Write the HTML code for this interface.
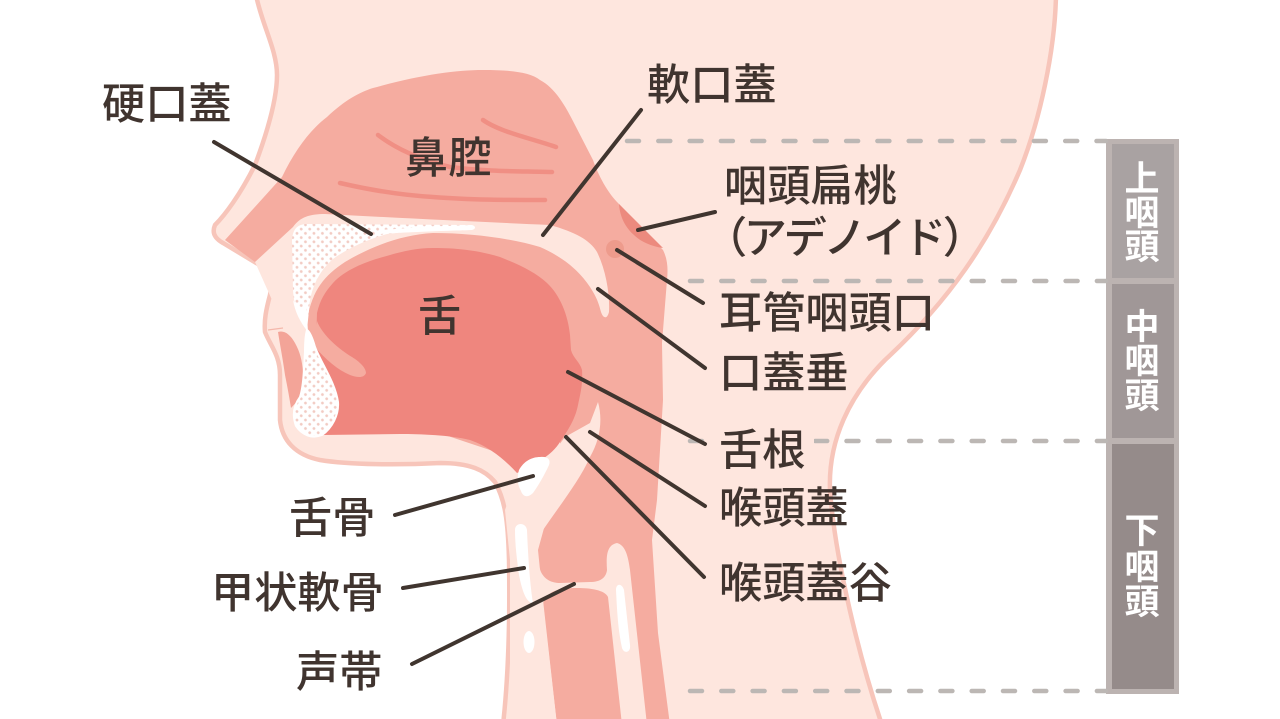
<!DOCTYPE html>
<html lang="ja"><head><meta charset="utf-8"><title>咽頭</title>
<style>html,body{margin:0;padding:0;background:#fff;width:1280px;height:719px;overflow:hidden}svg{display:block}
text{font-family:"Liberation Sans","Noto Sans CJK JP",sans-serif}
.l{font-size:43.2px;font-weight:500;fill:#40342f}
.b{font-size:35px;font-weight:700;fill:#fff;text-anchor:middle}
</style></head><body>
<svg width="1280" height="719" viewBox="0 0 1280 719" xmlns="http://www.w3.org/2000/svg">
<defs><pattern id="d" width="6" height="6" patternUnits="userSpaceOnUse" patternTransform="rotate(45)"><rect width="6" height="6" fill="#fff"/><circle cx="3" cy="3" r="1.4" fill="#f2cbc3"/></pattern></defs>
<!-- silhouette -->
<path d="M256,-5 C262,25 277,50 277,75 C277,95 270,125 255,165 C240,195 225,215 215,225 C212,232 214,238 223,243 L258,264 C270,270 273,280 270,295 C266,310 264,320 265,332 C270,345 280,355 280,375 L280,420 C282,440 295,455 320,460 C350,465 400,465 440,463 C470,463 485,470 495,482 C505,500 508,520 509,560 C510,620 508,680 503,725 L882,725 C860,660 835,560 830,490 C828,440 850,395 885,360 C950,300 990,240 1020,170 C1040,120 1055,50 1056,-5 Z" fill="#fee6de" stroke="#f7c5ba" stroke-width="4.5"/>
<!-- dark nasal + pharynx -->
<path d="M225,240 L282,177 C295,150 310,130 327,117 C345,100 360,92 373,88 C420,75 455,70 483,70 C510,70 530,72 540,80 C555,88 565,105 575,125 L593,160 C600,180 610,195 618,203 L663,250 C668,260 668,270 667,280 L662,343 L663,400 L657,500 L652,540 L658,633 L670,725 L557,725 L543,600 L538,550 L560,470 L560,420 L400,300 L320,300 L290,280 L255,262 Z" fill="#f5aca0"/>
<!-- tongue mid -->
<path d="M307,320 C312,290 325,275 345,262 C370,247 400,235 433,233 C470,233 510,238 540,247 C565,258 580,272 590,287 L600,320 L600,400 L565,437 L520,460 L400,420 L323,425 L310,380 Z" fill="#f5aca0"/>
<!-- palate pale band -->
<path d="M255,262 L293,227 C300,217 310,214 325,214 C400,218 480,222 550,225 C575,232 590,240 597,252 C606,270 610,295 609,312 C607,320 603,318 601,312 C598,300 595,295 590,287 C580,272 565,258 540,247 C510,238 470,233 433,233 C400,235 370,247 345,262 C325,275 312,290 307,320 L305,345 L285,340 L272,300 Z" fill="#fee6de"/>
<!-- dark tongue -->
<path d="M317,313 C320,300 325,292 333,283 C345,270 365,262 383,257 C400,252 415,248 433,248 C460,248 480,251 500,257 C520,265 535,272 547,283 C560,295 568,315 570,335 L571,350 C573,358 580,362 582,370 C583,385 580,395 578,405 C575,420 568,430 560,442 C552,455 535,465 517,473 C505,460 490,447 470,440 C450,435 420,434 400,434 L323,435 L318,400 L316,345 Z" fill="#ef867e"/>
<!-- flap -->
<path d="M317,321 C322,335 340,350 352,357 C360,362 366,368 366,373 C364,378 358,378 350,375 C338,370 326,360 314,346 Z" fill="#f5aca0"/>
<!-- lips -->
<path d="M278,332 C284,330 290,334 295,343 C300,352 302,360 303,372 L303,395 L291,408 C289,395 287,385 285,375 C283,360 280,345 278,332 Z" fill="#f3a498"/>
<path d="M268,330 L283,328" stroke="#f4b8ab" stroke-width="1.2" fill="none"/>
<!-- upper bone -->
<path d="M292,240 C293,228 298,225 305,224 L470,225 C475,226 475,229 470,230 C440,231 410,231 387,234 C365,240 345,250 333,259 C318,272 310,290 309,310 L307,330 C300,322 294,308 293,290 Z" fill="url(#d)"/>
<path d="M308,332 C300,322 295,312 293,300 C300,312 304,316 306,300 Z" fill="#fff"/>
<path d="M380,230 C410,228 440,226 472,225 C476,226 476,229 472,230 C440,231 410,232 380,234 Z" fill="#fff"/>
<!-- lower bone -->
<path d="M307,330 C310,332 313,340 315,347 C322,365 335,382 338,402 C339,415 332,428 322,435 C312,439 302,435 296,426 C292,415 294,405 300,397 C304,385 304,365 305,352 C305,345 305,337 307,330 Z" fill="url(#d)" stroke="#fff" stroke-width="2"/>
<path d="M307,330 C310,335 313,342 315,350 L305,356 C305,345 305,337 307,330 Z" fill="#fff"/>
<!-- adenoid + eustachian -->
<path d="M619,204 L663,248 C650,246 640,241 634,235 C626,228 620,218 619,204 Z" fill="#ec8a7e"/>
<circle cx="615" cy="249" r="9" fill="#ee9b8c"/>
<!-- nasal lines -->
<g fill="none" stroke="#f08f84" stroke-width="4.5" stroke-linecap="round">
<path d="M378,135 C395,148 420,160 450,167 C490,172 520,171 552,172"/>
<path d="M483,120 C500,132 530,138 556,147"/>
<path d="M340,183 C370,190 400,195 433,197 C470,200 510,200 545,200"/>
</g>
<!-- larynx pale -->
<path d="M598,402 C603,420 600,440 590,457 C580,480 560,505 543,530 C535,545 538,565 541,572 C545,580 552,583 560,583 L590,582 C600,582 606,578 607,570 C606,555 607,545 617,543 C625,545 628,555 630,570 L647,725 L622,725 L608,597 C605,590 590,588 577,588 C560,588 548,590 543,603 L557,725 L510,725 L510,560 L505,510 L518,473 L553,453 L565,437 L590,423 Z" fill="#fee6de"/>
<!-- whites -->
<path d="M519,470 C524,461 532,457 540,457 C548,456 551,460 549,465 C544,476 538,486 533,493 C528,498 523,497 521,491 C517,484 517,477 519,470 Z" fill="#fff"/>
<path d="M515,530 C515,522 526,522 527,530 C528,555 530,585 533,603 C526,603 522,590 519,575 C517,560 515,545 515,530 Z" fill="#fff"/>
<ellipse cx="529" cy="642" rx="5.5" ry="11" fill="#fff"/>
<path d="M616,590 C616,583 622,583 624,590 L630,645 C631,653 624,654 622,648 C618,630 617,610 616,590 Z" fill="#fff"/>
<!-- bar -->
<rect x="1106" y="139" width="73" height="555" fill="#bcb3b1"/>
<rect x="1112" y="144" width="62" height="134" fill="#a9a2a2"/>
<rect x="1112" y="284" width="62" height="154" fill="#a09797"/>
<rect x="1112" y="444" width="62" height="245" fill="#958b8a"/>
<!-- dashes -->
<g fill="none" stroke="#bcb7b4" stroke-width="4.5" stroke-linecap="round">
<path d="M627,141 H1106" stroke-dasharray="12 19.3"/>
<path d="M690,281 H1106" stroke-dasharray="12 19.3"/>
<path d="M690,441 H1106" stroke-dasharray="12 19.3"/>
<path d="M690,691 H1106" stroke-dasharray="12 19.3"/>
</g>
<rect x="712" y="428" width="102" height="40" fill="#fee6de"/>
<!-- leaders -->
<g stroke="#40352f" stroke-width="4" stroke-linecap="round" fill="none">
<path d="M214,142 L371,234"/><path d="M641,110 L543,235"/><path d="M638,230 L715,212"/>
<path d="M617,250 L703,303"/><path d="M598,289 L705,368"/><path d="M568,372 L705,444"/>
<path d="M590,432 L705,506"/><path d="M566,437 L704,577"/><path d="M533,476 L395,515"/>
<path d="M524,568 L403,588"/><path d="M574,584 L412,664"/>
</g>
<!-- labels -->
<text class="l" x="102" y="119">硬口蓋</text>
<text class="l" x="647" y="100">軟口蓋</text>
<text class="l" x="405" y="173">鼻腔</text>
<text class="l" x="418" y="331">舌</text>
<text class="l" x="724" y="201">咽頭扁桃</text>
<text class="l" x="704" y="253" letter-spacing="-3.4">（アデノイド）</text>
<text class="l" x="719" y="328">耳管咽頭口</text>
<text class="l" x="719" y="388">口蓋垂</text>
<text class="l" x="719" y="465">舌根</text>
<text class="l" x="719" y="523">喉頭蓋</text>
<text class="l" x="719" y="598">喉頭蓋谷</text>
<text class="l" x="289" y="533">舌骨</text>
<text class="l" x="211" y="608">甲状軟骨</text>
<text class="l" x="296" y="687">声帯</text>
<text class="b" x="1142" y="191">上</text><text class="b" x="1142" y="225">咽</text><text class="b" x="1142" y="259">頭</text>
<text class="b" x="1142" y="339">中</text><text class="b" x="1142" y="373">咽</text><text class="b" x="1142" y="408">頭</text>
<text class="b" x="1142" y="543">下</text><text class="b" x="1142" y="579">咽</text><text class="b" x="1142" y="614">頭</text>
</svg>
</body></html>
